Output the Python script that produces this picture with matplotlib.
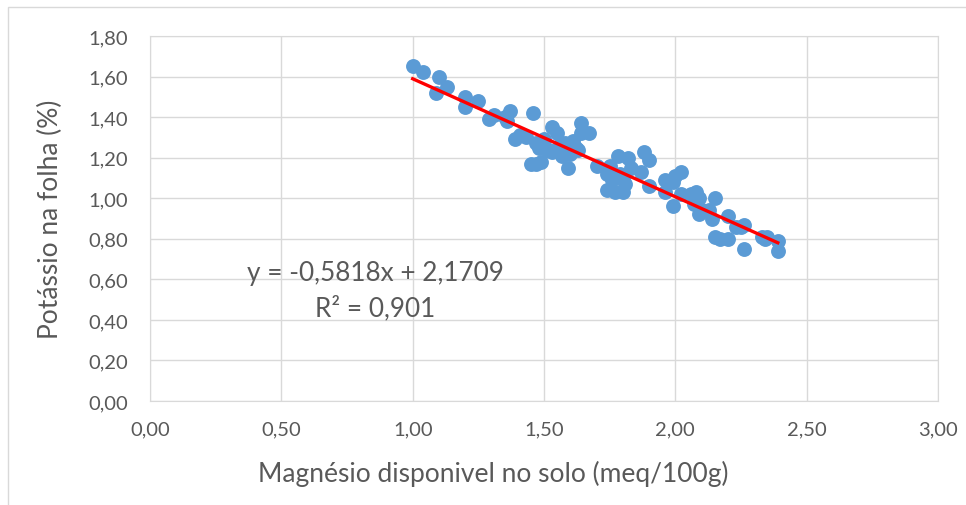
import matplotlib.pyplot as plt
from matplotlib.ticker import FuncFormatter, MultipleLocator
from matplotlib.patches import Rectangle

# Magnésio disponível no solo (meq/100g) x Potássio na folha (%)
magnesio = [1.00, 1.04, 1.10, 1.09, 1.13, 1.20, 1.20, 1.25, 1.29, 1.31,
            1.37, 1.35, 1.36, 1.41, 1.39, 1.46, 1.45, 1.47, 1.49, 1.47,
            1.50, 1.48, 1.51, 1.53, 1.55, 1.53, 1.56, 1.58, 1.59, 1.60,
            1.61, 1.64, 1.64, 1.67, 1.63, 1.70, 1.74, 1.74, 1.75, 1.78,
            1.79, 1.80, 1.77, 1.82, 1.81, 1.83, 1.87, 1.88, 1.90, 1.90,
            1.96, 1.96, 1.99, 2.00, 2.02, 1.99, 2.02, 2.06, 2.08, 2.09,
            2.07, 2.10, 2.09, 2.13, 2.15, 2.15, 2.17, 2.14, 2.20, 2.20,
            2.23, 2.25, 2.26, 2.26, 2.33, 2.35, 2.39, 2.39, 2.34, 1.76,
            1.62, 1.52, 1.57, 1.43, 1.80]
potassio = [1.65, 1.62, 1.60, 1.52, 1.55, 1.50, 1.45, 1.48, 1.39, 1.41,
            1.43, 1.40, 1.38, 1.31, 1.29, 1.42, 1.17, 1.17, 1.18, 1.27,
            1.29, 1.25, 1.24, 1.35, 1.32, 1.23, 1.26, 1.27, 1.15, 1.22,
            1.28, 1.37, 1.32, 1.32, 1.24, 1.16, 1.12, 1.04, 1.16, 1.21,
            1.12, 1.03, 1.03, 1.20, 1.07, 1.15, 1.13, 1.23, 1.19, 1.06,
            1.09, 1.03, 1.08, 1.11, 1.13, 0.96, 1.02, 1.02, 1.03, 1.00,
            0.97, 0.94, 0.92, 0.94, 1.00, 0.81, 0.80, 0.90, 0.80, 0.91,
            0.86, 0.86, 0.87, 0.75, 0.81, 0.81, 0.79, 0.74, 0.80, 1.09,
            1.25, 1.24, 1.21, 1.30, 1.10]

a, b = -0.5818, 2.1709
x_min, x_max = min(magnesio), max(magnesio)

plt.rcParams['font.family'] = ['Lato', 'DejaVu Sans']

fig = plt.figure(figsize=(9.66, 5.06), dpi=100)
fig.patches.append(Rectangle((0.008, -0.05), 1.2, 1.035, transform=fig.transFigure,
                             fill=False, edgecolor='#D9D9D9', linewidth=1))
ax = fig.add_axes([0.1553, 0.2055, 0.8157, 0.7214])

ax.scatter(magnesio, potassio, s=115, color='#5B9BD5', zorder=3, linewidths=0)
ax.plot([x_min, x_max], [a * x_min + b, a * x_max + b], color='#FF0000', linewidth=2.4, zorder=4)

ax.set_xlim(0, 3)
ax.set_ylim(0, 1.8)
ax.xaxis.set_major_locator(MultipleLocator(0.5))
ax.yaxis.set_major_locator(MultipleLocator(0.2))
fmt = FuncFormatter(lambda v, p: f"{v:.2f}".replace('.', ','))
ax.xaxis.set_major_formatter(fmt)
ax.yaxis.set_major_formatter(fmt)

ax.grid(True, color='#D9D9D9', linewidth=1)
ax.set_axisbelow(True)
for s in ax.spines.values():
    s.set_color('#D9D9D9')
ax.tick_params(length=0, labelsize=14.5, colors='#595959')
ax.tick_params(axis='y', pad=16)
ax.tick_params(axis='x', pad=14)

ax.set_xlabel("Magnésio disponivel no solo (meq/100g)", fontsize=19, color='#595959')
ax.xaxis.set_label_coords(0.435, -0.16)
ax.set_ylabel("Potássio na folha (%)", fontsize=19, color='#595959', labelpad=18)

ax.text(0.858, 0.632, "y = -0,5818x + 2,1709", fontsize=18.8, color='#595959', ha='center', va='center')
ax.text(0.858, 0.46, "R² = 0,901", fontsize=18.8, color='#595959', ha='center', va='center')

fig.savefig("out.png", dpi=100)
